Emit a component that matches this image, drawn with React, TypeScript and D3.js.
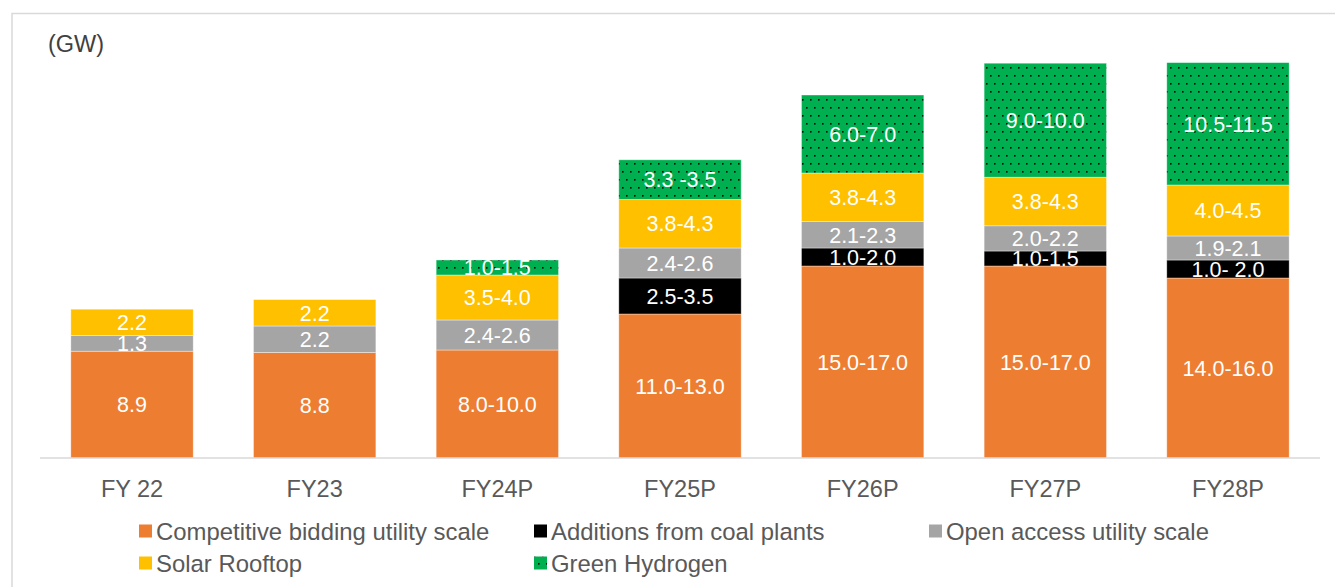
import React from "react";
import * as d3 from "d3";

const categories = ["FY 22", "FY23", "FY24P", "FY25P", "FY26P", "FY27P", "FY28P"];
const seriesNames = [
  "Competitive bidding utility scale",
  "Additions from coal plants",
  "Open access utility scale",
  "Solar Rooftop",
  "Green Hydrogen",
];
const seriesColors = ["#ED7D31", "#000000", "#A5A5A5", "#FFC000", "#00B050"];
// bar heights (midpoints of ranges)
const competitive = [8.9, 8.8, 9.0, 12.0, 16.0, 16.0, 15.0];
const coal = [0, 0, 0, 3.0, 1.5, 1.25, 1.5];
const openAccess = [1.3, 2.2, 2.5, 2.5, 2.2, 2.1, 2.0];
const rooftop = [2.2, 2.2, 3.75, 4.05, 4.05, 4.05, 4.25];
const hydrogen = [0, 0, 1.25, 3.3, 6.5, 9.5, 10.2];
// labels
const competitiveLabels = ["8.9", "8.8", "8.0-10.0", "11.0-13.0", "15.0-17.0", "15.0-17.0", "14.0-16.0"];
const coalLabels = ["", "", "", "2.5-3.5", "1.0-2.0", "1.0-1.5", "1.0- 2.0"];
const openAccessLabels = ["1.3", "2.2", "2.4-2.6", "2.4-2.6", "2.1-2.3", "2.0-2.2", "1.9-2.1"];
const rooftopLabels = ["2.2", "2.2", "3.5-4.0", "3.8-4.3", "3.8-4.3", "3.8-4.3", "4.0-4.5"];
const hydrogenLabels = ["", "", "1.0-1.5", "3.3 -3.5", "6.0-7.0", "9.0-10.0", "10.5-11.5"];

const seriesValues = [competitive, coal, openAccess, rooftop, hydrogen];
const seriesLabels = [competitiveLabels, coalLabels, openAccessLabels, rooftopLabels, hydrogenLabels];

const W = 1335;
const H = 587;
const FONT = "'Liberation Sans', Arial, sans-serif";

export default function App() {
  const x = d3.scaleBand<string>().domain(categories).range([40.7, 1319.3]).paddingInner(0.33).paddingOuter(0.165);
  const y = d3.scaleLinear().domain([0, 35]).range([458, 458 - 35 * 12.0]);

  const rows = categories.map((c, i) => {
    const r: any = { cat: c };
    seriesNames.forEach((s, j) => (r[s] = seriesValues[j][i]));
    return r;
  });
  const stacked = d3.stack<any>().keys(seriesNames)(rows);

  const legendItems = [
    { i: 0, x: 139, y: 531 },
    { i: 1, x: 534, y: 531 },
    { i: 2, x: 929, y: 531 },
    { i: 3, x: 139, y: 563 },
    { i: 4, x: 534, y: 563 },
  ];

  return (
    <svg width={W} height={H} style={{ position: "absolute", left: 0, top: 0, display: "block" }}>
      <defs>
        <pattern id="dots" width="8" height="16" patternUnits="userSpaceOnUse">
          <rect width="8" height="16" fill="#00B050" />
          <rect x="2" y="3" width="1.6" height="1.6" fill="#000" />
          <rect x="6" y="11" width="1.6" height="1.6" fill="#000" />
        </pattern>
      </defs>
      <rect x={0} y={0} width={W} height={H} fill="#fff" />
      <rect x={12} y={13.5} width={W + 10} height={H + 10} fill="none" stroke="#d9d9d9" strokeWidth={1.5} />
      <text x={48} y={52} fontFamily={FONT} fontSize={23.5} fill="#404040">(GW)</text>
      {stacked.map((layer, j) => (
        <g key={j}>
          {layer.map((d, i) => {
            const v = seriesValues[j][i];
            if (!v) return null;
            const y0 = y(d[0]);
            const y1 = y(d[1]);
            const bx = x(categories[i])!;
            const bw = x.bandwidth();
            return (
              <g key={i}>
                <rect
                  x={bx}
                  y={y1}
                  width={bw}
                  height={y0 - y1}
                  fill={j === 4 ? "url(#dots)" : seriesColors[j]}
                  stroke="#ffffff"
                  strokeOpacity={0.5}
                  strokeWidth={0.75}
                />
                <text
                  x={bx + bw / 2}
                  y={(y0 + y1) / 2}
                  dy="0.36em"
                  textAnchor="middle"
                  fontFamily={FONT}
                  fontSize={21.5}
                  fill="#ffffff"
                >
                  {seriesLabels[j][i]}
                </text>
              </g>
            );
          })}
        </g>
      ))}
      <line x1={40} x2={1320} y1={458} y2={458} stroke="#d9d9d9" strokeWidth={1.5} />
      {categories.map((c) => (
        <text
          key={c}
          x={x(c)! + x.bandwidth() / 2}
          y={497}
          textAnchor="middle"
          fontFamily={FONT}
          fontSize={23.5}
          fill="#595959"
        >
          {c}
        </text>
      ))}
      {legendItems.map((l) => (
        <g key={l.i}>
          <rect
            x={l.x}
            y={l.y - 6.5}
            width={13}
            height={13}
            fill={l.i === 4 ? "url(#dots)" : seriesColors[l.i]}
          />
          <text x={l.x + 17} y={l.y} dy="0.36em" fontFamily={FONT} fontSize={23.9} fill="#595959">
            {seriesNames[l.i]}
          </text>
        </g>
      ))}
    </svg>
  );
}
